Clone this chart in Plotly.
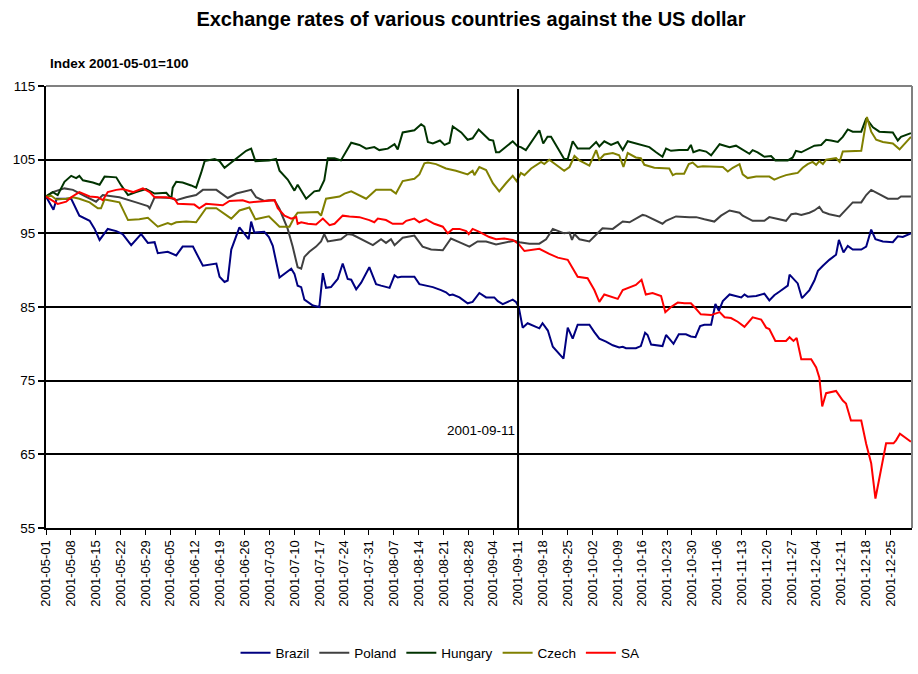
import pandas as pd
import plotly.graph_objects as go

START = "2001-05-01"

# Day offsets from 2001-05-01 and index values (2001-05-01 = 100)
brazil_day = [0, 2.1, 3, 7.1, 9.4, 12.3, 13.7, 15.1, 17.4, 19.8, 21.6, 24, 26.8, 28.7, 30.6, 31.5, 34.3, 36.7, 38.5, 41.4,
              44.2, 48, 48.9, 50.3, 51.2, 52.2, 54.5, 57.1, 57.8, 58.7, 61.5, 62.8, 63.9, 65.8, 69.1, 70, 70.9, 71.9, 72.8, 75.2,
              77, 78, 78.9, 80.3, 82.2, 83.6, 85, 86, 87.4, 88.8, 91.1, 93, 94.4, 96.8, 98.2, 99.1, 100.1, 103.8, 105.2, 107.1,
              109, 111.3, 112.7, 113.7, 114.6, 116.5, 118.8, 120.2, 122.1, 124, 126.3, 127.3, 128.7, 131.5, 132.4, 133.2, 133.8, 134.3, 135.7, 137.1,
              139, 139.9, 141.4, 142.8, 144.2, 145.8, 147, 148.4, 149.8, 153.1, 154.5, 155.9, 157.8, 159.7, 161.5, 162.5, 163.4, 166.2, 167.6, 168.8,
              169.5, 170.5, 173.7, 174.7, 175.6, 176.8, 178.3, 180.3, 181.7, 183, 184.3, 185.5, 187.4, 188.6, 189.6, 190.7, 192.6, 195.9, 196.8, 197.7,
              200.1, 202.4, 203.8, 205.2, 206.7, 209, 209.5, 211.8, 213, 215.1, 216.5, 217.5, 218.9, 220.7, 222.6, 223.4, 224.7, 225.9, 227.3, 229.7,
              231.1, 232.5, 233.7, 235.8, 238.6, 240, 241.4, 243.7]
brazil_val = [100, 98.2, 99.7, 99.7, 97.4, 96.7, 95.6, 94.1, 95.6, 95.3, 94.9, 93.4, 94.9, 93.7, 93.8, 92.3, 92.5, 92.0, 93.2, 93.2,
              90.6, 90.9, 89.1, 88.4, 88.6, 92.8, 95.8, 94.2, 96.6, 95.1, 95.2, 94.5, 93.3, 89.0, 90.2, 89.5, 87.9, 87.7, 86.0, 85.2,
              85.0, 89.6, 87.6, 87.7, 88.8, 90.9, 88.8, 88.7, 87.4, 88.3, 90.4, 88.1, 87.9, 87.6, 89.3, 89.0, 89.1, 89.1, 88.1, 87.9,
              87.7, 87.3, 87.0, 86.6, 86.7, 86.3, 85.5, 85.7, 86.9, 86.3, 86.3, 85.8, 85.4, 86.0, 85.7, 85.0, 83.2, 82.2, 82.8, 82.5,
              82.1, 82.8, 81.8, 79.6, 78.9, 78.0, 82.2, 80.7, 82.6, 82.6, 81.6, 80.7, 80.3, 79.8, 79.5, 79.6, 79.4, 79.4, 79.7, 81.5,
              81.2, 79.9, 79.7, 81.2, 80.7, 80.0, 81.3, 81.3, 81.0, 80.9, 82.4, 82.6, 82.6, 85.4, 84.5, 85.8, 86.7, 86.3, 86.7, 86.4,
              86.5, 86.8, 85.9, 86.6, 87.1, 87.9, 89.4, 88.2, 86.2, 87.3, 88.6, 89.9, 90.6, 91.4, 92.1, 94.1, 92.4, 93.3, 92.8, 92.8,
              93.2, 95.5, 94.2, 93.9, 93.8, 94.6, 94.5, 95.0]

poland_day = [0, 1.9, 5.2, 7.6, 10.4, 14.1, 16, 20.7, 25.4, 28.7, 29.2, 30.6, 35.3, 36.7, 39.5, 42.3, 44.2, 48, 51.2, 53.6,
              57.8, 59.2, 61.5, 62.8, 64.4, 65.8, 68.1, 69.5, 70.9, 71.9, 72.8, 74.2, 76.1, 77.5, 78.4, 79.4, 83.1, 85, 86.4, 90.7,
              92.1, 94.4, 95.8, 97.2, 98.2, 100.5, 103.8, 106.1, 108.5, 111.8, 114.1, 116.9, 119.3, 121.6, 124, 126.8, 129.6, 132, 133.4, 136.2,
              139, 140.9, 142.8, 146, 147.5, 148.2, 148.9, 150.3, 153.1, 155, 156.8, 159.7, 161.5, 162.5, 164.4, 166.2, 168.1, 169, 171.4, 173.7,
              174.7, 177.5, 181.3, 183.2, 185.5, 188.3, 190.2, 192.6, 195.4, 196.3, 199.1, 202.4, 203.8, 205.7, 208.5, 210, 211.3, 212.8, 215.1, 216.5,
              217.9, 218.9, 220.7, 223.6, 225.4, 227.3, 229.7, 231.1, 232.5, 234.8, 237.2, 240, 240.9, 243.7]
poland_val = [100, 100.6, 101.1, 100.9, 100.2, 99.3, 100.2, 99.9, 99.2, 98.7, 98.4, 99.9, 99.8, 99.5, 99.9, 100.2, 100.9, 100.9, 99.8, 100.4,
              100.9, 99.9, 99.4, 99.5, 99.5, 98.3, 95.6, 93.2, 90.4, 90.2, 91.8, 92.5, 93.2, 93.9, 94.9, 93.9, 94.2, 94.9, 94.8, 93.7,
              93.4, 94.2, 93.7, 94.2, 93.4, 94.4, 94.7, 93.2, 92.8, 92.7, 94.3, 93.7, 93.2, 93.9, 93.9, 93.5, 93.8, 94.0, 93.8, 93.6,
              93.6, 94.2, 95.6, 95.0, 95.1, 94.1, 94.9, 94.2, 93.9, 94.9, 95.7, 95.6, 96.3, 96.6, 96.5, 97.0, 97.5, 97.4, 96.8, 96.3,
              96.7, 97.3, 97.2, 97.2, 96.9, 96.6, 97.4, 98.1, 97.8, 97.4, 96.7, 96.7, 97.2, 97.0, 96.7, 97.6, 97.7, 97.5, 97.8, 98.1,
              98.6, 97.9, 97.6, 97.3, 98.3, 99.2, 99.2, 100.2, 100.9, 100.3, 99.7, 99.7, 100.0, 100.0]

hungary_day = [0, 1.9, 3.3, 5.2, 7.1, 8.5, 9.4, 10.4, 13.2, 15.1, 16.5, 19.8, 21.2, 23.1, 25.4, 28.2, 30.6, 33.9, 35.3, 35.7,
               36.7, 38.5, 40.9, 42.3, 43.7, 44.7, 47.5, 48.9, 50.3, 52.6, 56.4, 57.8, 59, 62.8, 64.8, 65.8, 68.1, 70, 70.9, 73.3,
               75.6, 77, 78.4, 79.4, 81.3, 83.1, 86, 88.3, 90.2, 92.5, 93.9, 96.3, 98.2, 99.1, 100.5, 103.8, 105.7, 106.6, 107.6, 109,
               111, 112.3, 113.7, 114.6, 117, 118.8, 120.2, 121.9, 123.5, 124.9, 126, 126.8, 127.7, 129.6, 131.5, 132.9, 133.8, 135.2, 137.1, 139,
               140.1, 141.3, 142.3, 144.2, 146, 147, 148.4, 149.8, 153.1, 155, 155.9, 157.3, 159.2, 161.1, 162.5, 163.9, 166.2, 168.1, 170, 171.9,
               173.7, 174.7, 176.1, 178.4, 180.8, 181.7, 182.4, 184.1, 186, 187.4, 189.8, 191.2, 192.6, 194.4, 196.8, 198.2, 199.1, 200.5, 202.4, 204.3,
               205.5, 209, 210.4, 211.3, 212.8, 214.6, 216.5, 218.4, 219.8, 221.2, 223.1, 224.5, 225.9, 227.3, 229.7, 231.1, 233, 234.8, 236.7, 238.6,
               240, 240.9, 243.7]
hungary_val = [100, 100.6, 100.2, 102.0, 102.8, 102.5, 102.8, 102.2, 101.9, 101.6, 102.7, 102.6, 101.5, 100.2, 100.6, 101.0, 100.4, 100.5, 99.7, 101.2,
               102.0, 101.9, 101.5, 101.2, 103.2, 104.8, 105.1, 104.8, 103.9, 104.8, 106.2, 106.5, 104.8, 104.9, 105.1, 103.5, 102.3, 100.8, 101.6, 99.7,
               100.7, 100.8, 102.2, 105.2, 105.2, 104.9, 107.3, 107.0, 106.5, 106.7, 106.3, 106.5, 107.1, 106.4, 108.7, 109.0, 109.8, 109.5, 107.4, 107.2,
               107.6, 107.0, 107.3, 109.5, 108.7, 107.7, 107.9, 109.1, 108.3, 107.7, 107.6, 106.0, 106.0, 106.7, 107.5, 106.8, 106.7, 106.3, 107.7, 109.0,
               107.2, 108.1, 108.1, 106.5, 105.1, 105.1, 107.5, 106.5, 106.5, 107.4, 106.8, 107.5, 107.0, 107.4, 106.3, 107.5, 107.2, 107.0, 106.7, 106.0,
               105.4, 106.5, 106.2, 106.3, 106.3, 107.0, 106.0, 106.3, 106.1, 105.6, 107.1, 106.9, 106.7, 106.9, 106.2, 105.8, 106.3, 106.0, 105.4, 105.5,
               104.9, 104.9, 105.3, 106.2, 106.0, 106.4, 106.9, 107.0, 107.7, 107.6, 107.4, 108.1, 109.1, 108.8, 108.8, 110.6, 109.4, 108.8, 108.7, 108.7,
               107.6, 108.1, 108.6]

czech_day = [0, 1.5, 2.9, 5.7, 7.6, 9.4, 12.3, 14.6, 15.5, 16.5, 20.7, 23.1, 26.3, 28.7, 31.5, 33.4, 34.3, 35.3, 36.7, 39.5,
             42.3, 45.1, 48, 52.2, 54.5, 57.3, 59, 62.8, 65.8, 68.6, 70, 70.9, 74.2, 76.6, 77.5, 78.9, 82.7, 84.1, 86, 87.8,
             90.2, 93, 97.2, 98.6, 100.5, 103.8, 105.2, 106.6, 107.6, 109.9, 112.7, 115.5, 118.8, 120.2, 120.7, 122.1, 124, 125.9, 127.7, 129.6,
             131.5, 132.6, 133.8, 134.8, 136.7, 139.5, 140.4, 141.8, 143.7, 146, 147.5, 148.9, 150.3, 153.1, 155, 155.9, 157.3, 159.7, 161.5, 162.7,
             163.9, 166.2, 167.6, 168.6, 171.4, 174.7, 175.6, 176.6, 177.5, 179.8, 181.1, 182.2, 183.6, 185.1, 187.9, 190.7, 192.1, 193.5, 195.4, 196.3,
             197.7, 200.1, 203.8, 205.2, 206.7, 208.5, 210.4, 211.8, 213.2, 214.6, 216, 217, 217.9, 218.9, 219.8, 222.6, 223.6, 224.5, 229.7, 231.3,
             232.5, 233.9, 235.8, 238.6, 240.5, 243.7]
czech_val = [100, 100.1, 99.6, 99.7, 99.9, 99.7, 99.2, 98.4, 98.4, 99.6, 99.2, 96.8, 96.9, 97.1, 95.9, 96.2, 96.4, 96.2, 96.5, 96.6,
             96.5, 98.4, 98.4, 97.0, 98.1, 98.5, 96.9, 97.3, 95.9, 95.9, 97.2, 97.8, 97.9, 97.9, 97.4, 99.7, 100.0, 100.4, 100.7, 100.3,
             99.7, 100.9, 100.9, 100.4, 102.1, 102.4, 103.0, 104.5, 104.6, 104.4, 103.8, 103.5, 103.0, 103.5, 102.9, 104.0, 103.6, 101.8, 100.7, 101.8,
             102.8, 102.1, 103.2, 102.9, 103.8, 104.7, 104.4, 105.0, 104.3, 103.5, 104.0, 105.5, 104.9, 104.2, 106.3, 105.0, 105.7, 105.9, 105.6, 104.0,
             105.9, 105.3, 105.2, 104.3, 103.9, 103.8, 103.8, 102.9, 103.1, 103.1, 104.4, 104.6, 104.0, 104.1, 104.1, 104.0, 103.4, 103.9, 104.4, 103.0,
             102.5, 102.7, 102.7, 102.3, 102.6, 102.9, 103.1, 103.2, 103.9, 104.4, 104.7, 104.3, 104.8, 104.4, 105.0, 105.2, 104.7, 106.1, 106.2, 110.8,
             108.8, 107.7, 107.4, 107.2, 106.4, 108.1]

sa_day = [0, 3.3, 5.7, 7.1, 9.4, 12.3, 14.6, 16, 17.4, 19.8, 21.6, 24.5, 27.3, 29.2, 30.6, 33.9, 36.2, 37.1, 41.8, 43.2,
          45.1, 49.8, 51.7, 55.4, 57.3, 59.2, 62.5, 64.4, 65.3, 67.2, 69.1, 70.5, 70.9, 71.9, 73.8, 76.1, 78, 79.9, 81.3, 83.6,
          85.5, 88.3, 91.1, 92.5, 93.5, 95.8, 97.7, 100.5, 101.5, 103.8, 105.2, 107.1, 109.4, 111.8, 113.2, 114.6, 116.5, 118.4, 119.1, 120.2,
          122.1, 124.9, 126.8, 129.1, 131.5, 133.1, 134.8, 139, 141.8, 144.2, 147, 149.8, 152.6, 154.5, 155.9, 157.3, 161.1, 162.5, 166.2, 167.8,
          169, 170.9, 173.3, 174.5, 176.1, 178, 179.9, 181.7, 182.7, 184.5, 187.4, 189.8, 191.2, 193, 194.9, 196.8, 199.1, 201.5, 202.9, 203.8,
          205.5, 208.5, 209.5, 210.6, 211.5, 212.8, 215.6, 217, 217.9, 218.7, 219.8, 222.6, 224.5, 225.4, 226.8, 229.7, 231.1, 232.5, 233.7, 236.7,
          238.8, 239.5, 240.6, 243.7]
sa_val = [100, 99.0, 99.3, 99.9, 100.6, 100.0, 99.9, 99.5, 100.6, 100.9, 101.0, 100.6, 101.1, 100.6, 99.9, 99.9, 99.7, 99.0, 98.9, 98.4,
          99.0, 98.8, 99.4, 99.5, 99.2, 99.3, 99.4, 99.5, 98.4, 97.4, 97.0, 97.2, 96.3, 96.5, 96.3, 96.2, 97.0, 96.1, 96.3, 97.4,
          97.3, 97.2, 96.8, 96.5, 97.0, 96.8, 96.3, 96.3, 96.7, 97.0, 96.5, 96.9, 96.3, 95.9, 95.0, 95.6, 95.6, 95.3, 94.9, 95.6,
          95.2, 94.5, 94.2, 94.3, 94.1, 93.6, 92.6, 92.9, 92.2, 91.7, 91.4, 89.1, 88.9, 87.3, 85.7, 86.7, 86.1, 87.3, 88.0, 88.7,
          86.7, 86.9, 86.5, 84.3, 85.0, 85.6, 85.5, 85.5, 85.0, 84.0, 83.9, 84.3, 83.6, 83.5, 83.0, 82.3, 83.6, 83.3, 82.2, 82.0,
          80.4, 80.4, 80.9, 80.4, 80.8, 77.9, 77.9, 76.8, 75.4, 71.5, 73.3, 73.6, 72.3, 71.9, 69.6, 69.6, 66.4, 63.8, 59.0, 66.5,
          66.5, 66.9, 67.8, 66.7]

series = [
    ("Brazil", brazil_day, brazil_val, "#000080"),
    ("Poland", poland_day, poland_val, "#404040"),
    ("Hungary", hungary_day, hungary_val, "#003300"),
    ("Czech", czech_day, czech_val, "#808000"),
    ("SA", sa_day, sa_val, "#FF0000"),
]

y_ticks = [55, 65, 75, 85, 95, 105, 115]
EVENT_DATE = "2001-09-11"

FONT = "Arial, Liberation Sans, sans-serif"

start = pd.Timestamp(START)
fig = go.Figure()
for name, days, vals, color in series:
    x = [start + pd.Timedelta(days=d) for d in days]
    fig.add_trace(go.Scatter(x=x, y=vals, mode="lines", name=name,
                             line=dict(color=color, width=2)))

fig.update_layout(
    width=918, height=674,
    margin=dict(l=46, r=6, t=86, b=146),
    paper_bgcolor="white", plot_bgcolor="white",
    font=dict(family=FONT, size=13, color="black"),
    title=dict(text="<b>Exchange rates of various countries against the US dollar</b>",
               x=0.513, xanchor="center", y=0.972, yanchor="middle",
               font=dict(family=FONT, size=20, color="black")),
    showlegend=True,
    legend=dict(orientation="h", x=0.455, xanchor="center", y=-0.283, yanchor="middle",
                font=dict(family=FONT, size=13.5), itemwidth=30, tracegroupgap=0),
)

fig.update_xaxes(
    type="date", range=[START, "2001-12-31"],
    tick0=START, dtick=7 * 86400000, tickformat="%Y-%m-%d", tickangle=-90,
    ticks="outside", ticklen=5, tickcolor="black", tickwidth=1,
    showgrid=False, showline=True, linecolor="black", linewidth=2,
    tickfont=dict(family=FONT, size=13), zeroline=False, automargin=False,
)
fig.update_yaxes(
    range=[55, 115], tickvals=y_ticks,
    ticks="outside", ticklen=6, tickcolor="black", tickwidth=1.5,
    showgrid=True, gridcolor="black", gridwidth=1.5,
    showline=True, linecolor="black", linewidth=2,
    tickfont=dict(family=FONT, size=13.5), zeroline=False, automargin=False,
)

# plot-area border (top and right) in gray
fig.add_shape(type="line", xref="paper", yref="paper", x0=0, x1=1, y0=1, y1=1,
              line=dict(color="#808080", width=2), layer="above")
fig.add_shape(type="line", xref="paper", yref="paper", x0=1, x1=1, y0=0, y1=1,
              line=dict(color="#808080", width=2), layer="above")

# 9/11 marker
fig.add_shape(type="line", xref="x", yref="y", x0=EVENT_DATE, x1=EVENT_DATE, y0=55, y1=114.6,
              line=dict(color="black", width=2), layer="above")
fig.add_annotation(x=EVENT_DATE, y=68.2, xref="x", yref="y", text="2001-09-11",
                   showarrow=False, xanchor="right", yanchor="middle", xshift=-1,
                   font=dict(family=FONT, size=13.5, color="black"))

fig.add_annotation(x=0.002, y=1.05, xref="paper", yref="paper", text="<b>Index 2001-05-01=100</b>",
                   showarrow=False, xanchor="left", yanchor="middle",
                   font=dict(family=FONT, size=13.5, color="black"))

fig.write_html("out.html", config={"displayModeBar": False},
               post_script="document.body.style.margin='0';")
